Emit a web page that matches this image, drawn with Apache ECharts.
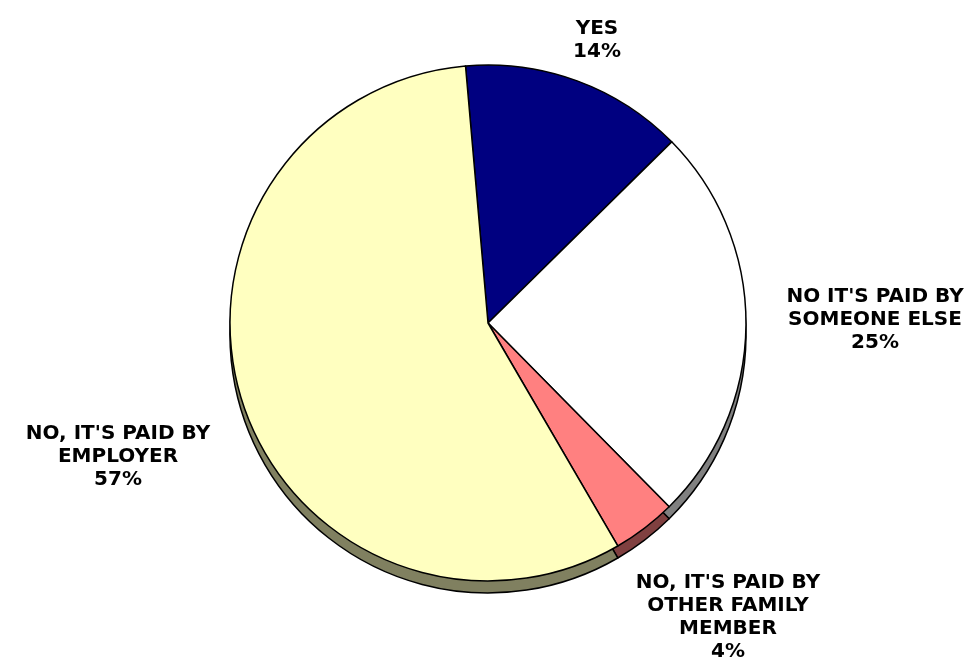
<!DOCTYPE html>
<html>
<head>
<meta charset="utf-8">
<script src="https://cdn.jsdelivr.net/npm/echarts@6/dist/echarts.min.js"></script>
<style>
  html, body { margin: 0; padding: 0; background: #fff; }
  #chart { width: 980px; height: 668px; }
</style>
</head>
<body>
<div id="chart"></div>
<script>
// slice names and values (percent), clockwise from the top
const names = [
  'YES',
  "NO IT'S PAID BY\nSOMEONE ELSE",
  "NO, IT'S PAID BY\nOTHER FAMILY\nMEMBER",
  "NO, IT'S PAID BY\nEMPLOYER"
]
const values = [14, 25, 4, 57]
const faceColors = ['#000080', '#ffffff', '#ff8080', '#ffffc0']
const sideColors = ['#000040', '#808080', '#804040', '#808060']

// where each label sits (centre of the text block)
const labelPos = [[597, 40], [875, 320], [728, 617], [118, 457]]

const chart = echarts.init(document.getElementById('chart'))

const depth = 12
const cx = 488
const cy = 323
const r = 258

chart.setOption({
  animation: false,
  series: [
    {
      // side of the "3d" pie, drawn below the face
      type: 'pie',
      z: 1,
      silent: true,
      center: [cx, cy + depth],
      radius: r,
      startAngle: 95,
      label: { show: false },
      labelLine: { show: false },
      itemStyle: { borderColor: '#000', borderWidth: 1.5 },
      data: values.map((v, i) => ({
        value: v,
        name: names[i],
        itemStyle: { color: sideColors[i] }
      }))
    },
    {
      type: 'pie',
      z: 2,
      center: [cx, cy],
      radius: r,
      startAngle: 95,
      avoidLabelOverlap: false,
      itemStyle: { borderColor: '#000', borderWidth: 1.5 },
      label: {
        show: true,
        position: 'outside',
        formatter: '{b}\n{d}%',
        fontFamily: 'DejaVu Sans',
        fontWeight: 'bold',
        fontSize: 20,
        lineHeight: 23,
        color: '#000',
        align: 'center',
        overflow: 'none'
      },
      labelLine: { show: false },
      labelLayout: function (p) {
        const pos = labelPos[p.dataIndex]
        return { x: pos[0], y: pos[1], align: 'center', verticalAlign: 'middle' }
      },
      data: values.map((v, i) => ({
        value: v,
        name: names[i],
        itemStyle: { color: faceColors[i] }
      }))
    }
  ]
})
</script>
</body>
</html>
